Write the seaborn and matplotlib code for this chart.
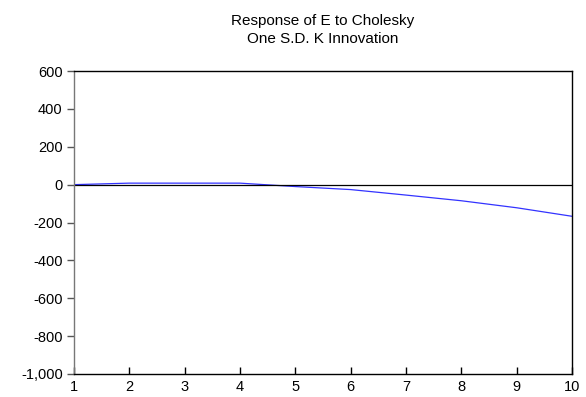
import matplotlib
matplotlib.use("Agg")
import matplotlib.pyplot as plt
import seaborn as sns
import pandas as pd
from matplotlib.ticker import FuncFormatter

periods = [1, 2, 3, 4, 5, 6, 7, 8, 9, 10]
response = [0, 8, 8, 8, -10, -26, -55, -85, -122, -167]
title = "Response of E to Cholesky\nOne S.D. K Innovation"
yticks = [-1000, -800, -600, -400, -200, 0, 200, 400, 600]

sns.set_theme(style="white")
plt.rcParams['font.family'] = ['Liberation Sans', 'DejaVu Sans']
plt.rcParams['text.color'] = 'black'
plt.rcParams['xtick.color'] = 'black'
plt.rcParams['ytick.color'] = 'black'

df = pd.DataFrame({"period": periods, "response": response})

fig = plt.figure(figsize=(5.86, 3.97), dpi=100)
ax = fig.add_axes([0.126, 0.058, 0.85, 0.763])
sns.lineplot(data=df, x="period", y="response", ax=ax, color="#3333ff", linewidth=0.9)
ax.axhline(0, color="black", linewidth=0.9)

ax.set_xlim(1, 10)
ax.set_ylim(-1000, 600)
ax.set_xticks(periods)
ax.set_yticks(yticks)
ax.yaxis.set_major_formatter(FuncFormatter(lambda v, p: f"{int(v):,}"))
ax.set_xlabel("")
ax.set_ylabel("")
ax.set_title(title, fontsize=11, pad=20, linespacing=1.35, color="black")

for s in ax.spines.values():
    s.set_color("black")
    s.set_linewidth(1.0)
ax.spines["left"].set_color("#777777")
ax.tick_params(axis="y", direction="out", length=5, width=1, color="#555555", labelcolor="black", labelsize=10.5, pad=3, left=True)
ax.tick_params(axis="x", direction="in", length=5, width=1, color="black", labelcolor="black", labelsize=10.5, pad=4, bottom=True)

fig.savefig("out.png", dpi=100)
